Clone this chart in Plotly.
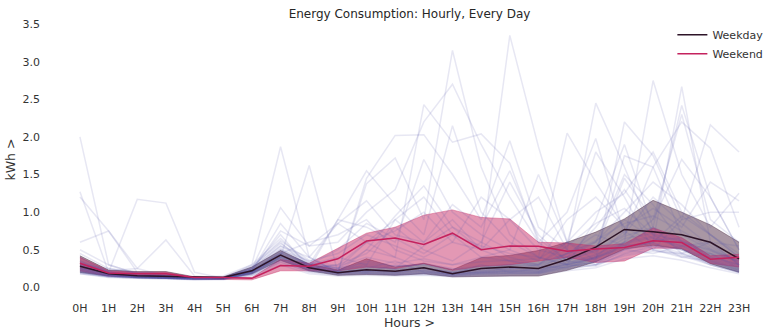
import plotly.graph_objects as go

hours = list(range(24))
hour_labels = [f"{h}H" for h in hours]

weekday_mean = [0.28,0.18,0.155,0.146,0.13,0.13,0.22,0.43,0.26,0.195,0.235,0.215,0.26,0.18,0.25,0.27,0.25,0.37,0.535,0.77,0.74,0.70,0.60,0.38]
weekday_upper = [0.42,0.23,0.21,0.21,0.14,0.14,0.27,0.49,0.31,0.23,0.38,0.27,0.32,0.235,0.395,0.425,0.49,0.60,0.735,0.91,1.157,1.00,0.83,0.60]
weekday_lower = [0.20,0.15,0.13,0.12,0.11,0.11,0.18,0.36,0.22,0.16,0.17,0.16,0.18,0.14,0.15,0.15,0.15,0.226,0.34,0.51,0.56,0.51,0.315,0.20]

weekend_mean = [0.32,0.19,0.18,0.18,0.13,0.13,0.12,0.29,0.28,0.38,0.615,0.655,0.57,0.72,0.50,0.55,0.545,0.48,0.51,0.53,0.62,0.595,0.375,0.40]
weekend_upper = [0.40,0.22,0.20,0.20,0.13,0.13,0.13,0.37,0.32,0.52,0.72,0.80,0.96,1.03,0.93,0.91,0.60,0.59,0.55,0.58,0.79,0.66,0.42,0.44]
weekend_lower = [0.22,0.15,0.15,0.15,0.11,0.11,0.10,0.22,0.22,0.22,0.27,0.25,0.315,0.226,0.28,0.30,0.35,0.40,0.33,0.35,0.52,0.52,0.32,0.27]

days = [
    [2.0,0.30,0.18,0.16,0.12,0.12,0.20,0.45,0.30,0.25,0.60,0.90,1.20,0.70,0.40,0.35,0.30,0.45,0.60,1.50,1.10,0.60,0.45,0.35],
    [1.27,0.20,0.15,0.14,0.12,0.13,0.25,0.70,0.25,0.90,1.55,1.10,0.70,2.15,1.00,0.60,0.40,0.30,0.90,1.90,0.80,2.42,1.20,0.50],
    [1.20,0.75,0.20,0.16,0.13,0.13,0.22,0.85,0.40,0.20,1.45,2.02,2.03,1.50,0.90,1.95,0.80,0.50,2.45,1.60,0.70,0.50,0.40,0.30],
    [0.60,0.75,0.25,0.15,0.12,0.12,0.30,1.87,0.40,0.20,0.50,0.40,2.43,1.93,2.04,1.65,0.60,0.30,0.40,0.60,2.75,1.50,0.80,1.25],
    [0.35,0.20,1.17,1.12,0.20,0.12,0.20,0.40,1.62,0.20,1.38,1.72,0.90,3.15,1.60,0.70,0.40,2.05,1.40,0.80,0.60,2.67,0.60,0.30],
    [0.25,0.22,0.25,0.63,0.15,0.12,0.25,1.06,0.55,0.85,1.15,0.70,0.60,0.90,0.50,3.35,1.87,0.60,0.35,2.20,1.75,0.90,2.16,1.80],
    [0.50,0.30,0.18,0.15,0.12,0.12,0.22,0.75,0.55,0.60,1.00,1.30,2.20,2.70,1.90,1.20,0.60,1.00,1.98,0.70,1.60,2.20,1.85,0.80],
    [0.30,0.25,0.20,0.18,0.13,0.15,0.30,0.65,0.30,0.90,0.80,0.60,1.70,1.00,0.70,0.50,1.50,0.60,1.80,1.20,0.50,0.90,1.00,1.00],
    [0.28,0.18,0.15,0.14,0.12,0.12,0.20,0.50,0.35,0.45,0.70,0.55,0.40,0.60,1.20,0.90,0.50,0.40,0.60,1.00,1.40,1.10,0.70,0.40],
    [0.22,0.16,0.14,0.13,0.11,0.12,0.28,0.60,0.25,0.30,0.45,0.80,0.50,0.35,0.60,1.40,0.70,0.35,0.50,1.45,0.90,2.30,0.90,0.60],
    [0.40,0.20,0.16,0.15,0.12,0.12,0.22,0.45,0.60,0.70,0.90,0.50,0.35,0.30,0.40,0.50,0.35,0.90,1.20,0.80,1.05,0.80,1.40,1.15],
    [0.18,0.14,0.13,0.12,0.11,0.11,0.20,0.40,0.28,0.22,0.30,0.25,0.55,0.80,0.60,0.40,0.30,0.60,0.45,1.75,1.60,0.70,0.50,0.35],
    [0.32,0.22,0.17,0.15,0.12,0.12,0.25,0.55,0.40,0.85,0.60,0.75,1.00,0.60,0.50,0.90,1.20,0.50,0.30,0.60,0.90,1.70,1.20,0.50],
    [0.25,0.17,0.14,0.13,0.12,0.13,0.20,0.48,0.30,0.25,0.20,0.30,0.25,0.20,0.25,0.30,0.28,0.40,0.80,1.30,0.75,0.60,0.50,0.30],
    [0.20,0.15,0.13,0.12,0.11,0.12,0.22,0.42,0.26,0.20,0.22,0.20,0.24,0.18,0.22,0.25,0.22,0.35,0.55,0.90,0.65,0.55,0.45,0.28],
    [0.30,0.18,0.15,0.13,0.12,0.12,0.18,0.40,0.22,0.18,0.25,0.35,0.20,0.18,0.30,0.20,0.25,0.45,0.70,0.55,0.80,0.45,0.60,0.30],
    [0.24,0.16,0.14,0.12,0.11,0.11,0.20,0.38,0.24,0.19,0.20,0.18,0.20,0.17,0.19,0.21,0.20,0.28,0.35,0.50,0.60,0.40,0.35,0.22],
    [0.26,0.18,0.15,0.14,0.12,0.12,0.24,0.50,0.28,0.22,0.35,0.28,0.30,0.22,0.26,0.28,0.30,0.40,0.50,0.70,1.20,0.85,0.55,0.32],
    [0.22,0.15,0.13,0.12,0.11,0.11,0.17,0.36,0.25,0.30,0.60,0.40,0.25,0.20,0.20,0.22,0.24,0.30,0.28,0.45,0.55,0.50,0.30,0.20],
    [0.35,0.20,0.16,0.14,0.12,0.12,0.21,0.46,0.32,0.26,0.28,0.24,0.32,0.25,0.22,0.24,0.30,0.55,0.85,1.05,0.70,0.62,0.48,0.36],
    [0.20,0.14,0.12,0.12,0.11,0.11,0.16,0.34,0.20,0.16,0.18,0.16,0.17,0.15,0.16,0.17,0.18,0.25,0.30,0.42,0.48,0.45,0.30,0.20],
    [0.28,0.17,0.14,0.13,0.12,0.12,0.19,0.44,0.27,0.21,0.24,0.22,0.27,0.19,0.24,0.26,0.24,0.33,0.42,0.65,0.72,0.58,0.40,0.27],
    [0.18,0.13,0.12,0.11,0.10,0.10,0.15,0.30,0.18,0.15,0.16,0.15,0.16,0.14,0.15,0.16,0.16,0.22,0.26,0.38,0.42,0.36,0.26,0.18],
    [0.33,0.19,0.15,0.14,0.12,0.12,0.23,0.52,0.30,0.50,0.85,0.65,0.45,0.70,0.55,0.45,0.40,0.30,0.38,0.55,0.60,0.95,0.70,0.45],
    [0.22,0.16,0.14,0.13,0.12,0.12,0.26,0.58,0.34,0.24,0.50,0.95,1.35,0.80,0.50,0.35,0.28,0.26,0.40,0.75,0.50,0.40,0.45,0.25],
    [0.26,0.17,0.15,0.13,0.12,0.12,0.20,0.42,0.26,0.20,0.22,0.20,0.22,0.18,0.20,0.22,0.21,0.30,0.40,0.52,0.62,0.66,0.38,0.24],
    [0.45,0.25,0.18,0.16,0.13,0.13,0.22,0.40,0.30,0.40,0.30,0.90,0.60,1.10,0.80,1.55,0.65,0.35,0.30,0.50,0.45,0.55,0.60,0.55],
    [0.20,0.15,0.13,0.12,0.11,0.11,0.19,0.39,0.23,0.18,0.19,0.17,0.19,0.16,0.18,0.19,0.19,0.27,0.33,0.47,0.52,0.44,0.32,0.21],
    [0.30,0.19,0.16,0.14,0.12,0.12,0.27,0.62,0.36,0.28,0.40,0.32,0.38,0.30,0.34,0.36,0.38,0.60,1.00,1.25,1.80,1.00,0.70,0.40],
    [0.24,0.17,0.14,0.13,0.11,0.12,0.18,0.37,0.24,0.19,0.21,0.19,0.21,0.17,0.19,0.20,0.20,0.29,0.38,0.58,0.66,0.52,0.36,0.23],
    [0.19,0.14,0.12,0.12,0.10,0.11,0.17,0.33,0.21,0.17,0.18,0.17,0.18,0.15,0.17,0.18,0.18,0.24,0.30,0.44,0.50,0.42,0.30,0.20],
    [0.27,0.17,0.14,0.13,0.12,0.12,0.22,0.47,0.29,0.23,0.27,0.24,0.26,0.20,0.23,0.25,0.26,0.36,0.48,0.68,0.80,0.62,0.42,0.30],
    [0.23,0.16,0.13,0.12,0.11,0.11,0.19,0.41,0.25,0.20,0.21,0.20,0.22,0.17,0.20,0.21,0.21,0.31,0.40,0.56,0.58,0.50,0.35,0.24],
    [0.31,0.19,0.15,0.14,0.12,0.12,0.24,0.55,0.33,0.26,0.32,0.28,0.30,0.24,0.28,0.30,0.32,0.45,0.62,0.85,0.95,0.75,0.52,0.33],
    [0.21,0.15,0.13,0.12,0.11,0.11,0.18,0.36,0.22,0.18,0.19,0.18,0.19,0.16,0.18,0.19,0.19,0.27,0.34,0.50,0.55,0.46,0.33,0.22],
    [0.25,0.16,0.14,0.13,0.11,0.12,0.21,0.45,0.27,0.21,0.23,0.21,0.23,0.18,0.21,0.23,0.22,0.32,0.44,0.60,0.68,0.55,0.38,0.26],
]

FONT = "DejaVu Sans"
fig = go.Figure()

# bands
fig.add_trace(go.Scatter(x=hours, y=weekday_upper, mode="lines", line=dict(width=0.8, color="rgba(60,25,50,0.5)"),
                         showlegend=False, hoverinfo="skip"))
fig.add_trace(go.Scatter(x=hours, y=weekday_lower, mode="lines", line=dict(width=0.8, color="rgba(60,25,50,0.5)"),
                         fill="tonexty", fillcolor="rgba(90,55,80,0.52)", showlegend=False, hoverinfo="skip"))
fig.add_trace(go.Scatter(x=hours, y=weekend_upper, mode="lines", line=dict(width=0.8, color="rgba(200,40,95,0.5)"),
                         showlegend=False, hoverinfo="skip"))
fig.add_trace(go.Scatter(x=hours, y=weekend_lower, mode="lines", line=dict(width=0.8, color="rgba(200,40,95,0.5)"),
                         fill="tonexty", fillcolor="rgba(200,50,105,0.5)", showlegend=False, hoverinfo="skip"))

# individual days
for d in days:
    fig.add_trace(go.Scatter(x=hours, y=d, mode="lines", line=dict(width=1.5, color="rgba(85,85,170,0.14)"),
                             showlegend=False, hoverinfo="skip"))

# means
fig.add_trace(go.Scatter(x=hours, y=weekday_mean, mode="lines", name="Weekday",
                         line=dict(width=1.5, color="#2d1428")))
fig.add_trace(go.Scatter(x=hours, y=weekend_mean, mode="lines", name="Weekend",
                         line=dict(width=1.5, color="#c4225e")))

fig.update_layout(
    width=783, height=336,
    margin=dict(l=47, r=11, t=23, b=40),
    paper_bgcolor="white", plot_bgcolor="white",
    font=dict(family=FONT, size=11, color="#333333"),
    title=dict(text="Energy Consumption: Hourly, Every Day", x=0.523, xanchor="center",
               y=0.96, yanchor="middle", font=dict(size=12, color="#262626")),
    legend=dict(x=0.995, xanchor="right", y=1.01, yanchor="top", bgcolor="rgba(0,0,0,0)",
                font=dict(size=11, color="#333333"), itemwidth=30, tracegroupgap=0,
                traceorder="normal"),
    xaxis=dict(range=[-1.15, 24.15], tickvals=hours, ticktext=hour_labels, showgrid=False,
               zeroline=False, showline=False, ticks="", ticklabelstandoff=4,
               tickfont=dict(size=11, color="#333333"),
               title=dict(text="Hours >", font=dict(size=12.5, color="#333333"), standoff=2)),
    yaxis=dict(range=[-0.115, 3.515], tickvals=[0, 0.5, 1, 1.5, 2, 2.5, 3, 3.5], tickformat=".1f",
               showgrid=False, zeroline=False, showline=False, ticks="", ticklabelstandoff=6,
               tickfont=dict(size=11, color="#333333"),
               title=dict(text="kWh >", font=dict(size=12.5, color="#333333"), standoff=4)),
)

fig.write_html("out.html")
